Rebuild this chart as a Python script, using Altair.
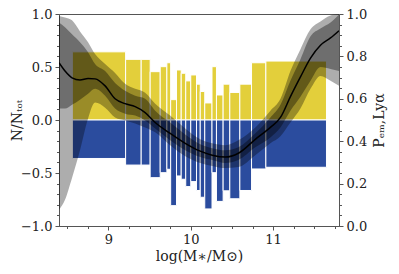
import altair as alt
import pandas as pd

# ---- histogram bins (log stellar mass) and fractions ----
bin_edges = [8.562, 9.209, 9.398, 9.507, 9.629, 9.710, 9.756, 9.827, 9.884, 9.939,
             10.000, 10.070, 10.115, 10.170, 10.258, 10.312, 10.393, 10.474, 10.596,
             10.738, 10.912, 11.648]
frac_emitter = [0.643, 0.572, 0.572, 0.456, 0.503, 0.540, 0.192, 0.472, 0.441, 0.369,
                0.425, 0.338, 0.269, 0.161, 0.503, 0.236, 0.338, 0.260, 0.338, 0.540, 0.556]
frac_nonemitter = [-0.363, -0.425, -0.425, -0.544, -0.497, -0.465, -0.808, -0.528, -0.559,
                   -0.628, -0.581, -0.665, -0.729, -0.839, -0.497, -0.768, -0.668, -0.743,
                   -0.665, -0.462, -0.446]

# ---- probability curve and credible bands ----
mass_grid = [8.40, 8.473, 8.558, 8.655, 8.753, 8.838, 8.960, 9.081, 9.203, 9.325, 9.446,
             9.568, 9.750, 9.933, 10.115, 10.261, 10.419, 10.578, 10.784, 10.967, 11.089,
             11.210, 11.332, 11.454, 11.575, 11.697, 11.80]
p_median = [0.770, 0.731, 0.699, 0.689, 0.696, 0.694, 0.661, 0.600, 0.577, 0.563, 0.535,
            0.488, 0.437, 0.390, 0.353, 0.334, 0.325, 0.343, 0.409, 0.465, 0.512, 0.610,
            0.703, 0.792, 0.853, 0.887, 0.921]
p_outer_hi = [0.991, 0.984, 0.970, 0.918, 0.867, 0.811, 0.764, 0.722, 0.671, 0.647, 0.629,
              0.577, 0.521, 0.460, 0.409, 0.390, 0.381, 0.404, 0.465, 0.544, 0.600, 0.731,
              0.834, 0.928, 0.965, 0.993, 1.0]
p_inner_hi = [0.960, 0.937, 0.904, 0.867, 0.820, 0.764, 0.731, 0.675, 0.638, 0.614, 0.600,
              0.544, 0.488, 0.432, 0.386, 0.367, 0.357, 0.371, 0.437, 0.512, 0.572, 0.685,
              0.787, 0.895, 0.932, 0.960, 0.998]
p_inner_lo = [0.554, 0.554, 0.572, 0.596, 0.624, 0.647, 0.614, 0.554, 0.530, 0.521, 0.498,
              0.460, 0.404, 0.357, 0.325, 0.311, 0.297, 0.311, 0.371, 0.418, 0.465, 0.544,
              0.610, 0.685, 0.750, 0.741, 0.731]
p_outer_lo = [0.077, 0.124, 0.227, 0.357, 0.507, 0.582, 0.558, 0.512, 0.498, 0.484, 0.465,
              0.442, 0.381, 0.329, 0.297, 0.283, 0.273, 0.278, 0.334, 0.390, 0.423, 0.488,
              0.554, 0.647, 0.708, 0.685, 0.661]

x_ticks = [8.5, 8.75, 9.0, 9.25, 9.5, 9.75, 10.0, 10.25, 10.5, 10.75, 11.0, 11.25, 11.5, 11.75]
yl_ticks = [round(-1 + 0.1 * i, 2) for i in range(21)]
yr_ticks = [round(0.05 * i, 2) for i in range(21)]

YELLOW = "#e3cf3b"
BLUE = "#2b4c9e"
FONT = "DejaVu Serif"
W, H = 280, 212

rows = []
for i in range(len(frac_emitter)):
    rows.append({"lo": bin_edges[i], "hi": bin_edges[i + 1], "val": frac_emitter[i], "kind": "em"})
    rows.append({"lo": bin_edges[i], "hi": bin_edges[i + 1], "val": frac_nonemitter[i], "kind": "non"})
bars_df = pd.DataFrame(rows)

curve_df = pd.DataFrame({
    "mass": mass_grid, "p": p_median,
    "o_hi": p_outer_hi, "o_lo": p_outer_lo,
    "i_hi": p_inner_hi, "i_lo": p_inner_lo,
})

xscale = alt.Scale(domain=[8.4, 11.8], nice=False, zero=False)
x_axis = alt.Axis(
    values=x_ticks,
    labelExpr="abs(datum.value - round(datum.value)) < 0.01 ? format(datum.value, 'd') : ''",
    tickSize={"condition": {"test": "abs(datum.value - round(datum.value)) < 0.01", "value": 4}, "value": 2.5},
    title="log(M∗/M⊙)", labelFlush=False, labelOverlap=False, grid=False, titlePadding=3,
)

left_axis = alt.Axis(
    values=yl_ticks, orient="left",
    labelExpr="abs(datum.value*2 - round(datum.value*2)) < 0.01 ? replace(format(datum.value, '.1f'), '-', '−') : ''",
    tickSize={"condition": {"test": "abs(datum.value*2 - round(datum.value*2)) < 0.01", "value": 4}, "value": 2.5},
    title="N/Nₜₒₜ", labelOverlap=False, grid=False,
    titleAngle=270, titleX=-35, titleY=H / 2, titleAlign="center", titleBaseline="bottom",
)

right_axis = alt.Axis(
    values=yr_ticks, orient="right",
    labelExpr="abs(datum.value*5 - round(datum.value*5)) < 0.01 ? format(datum.value, '.1f') : ''",
    tickSize={"condition": {"test": "abs(datum.value*5 - round(datum.value*5)) < 0.01", "value": 4}, "value": 2.5},
    title="Pₑₘ,Lyα", labelOverlap=False, grid=False,
    titleAngle=270, titleX=47, titleY=H / 2, titleAlign="center", titleBaseline="bottom",
)

bars = alt.Chart(bars_df).mark_bar(stroke="white", strokeWidth=1).encode(
    x=alt.X("lo:Q", scale=xscale, axis=x_axis),
    x2="hi:Q",
    y=alt.Y("val:Q", scale=alt.Scale(domain=[-1, 1], nice=False), axis=left_axis),
    y2=alt.datum(0),
    color=alt.Color("kind:N", scale=alt.Scale(domain=["em", "non"], range=[YELLOW, BLUE]), legend=None),
)

pscale = alt.Scale(domain=[0, 1], nice=False)
base = alt.Chart(curve_df)
outer = base.mark_area(color="black", opacity=0.32, interpolate="monotone", clip=True).encode(
    x=alt.X("mass:Q", scale=xscale, axis=x_axis),
    y=alt.Y("o_lo:Q", scale=pscale, axis=right_axis),
    y2="o_hi:Q",
)
inner = base.mark_area(color="black", opacity=0.36, interpolate="monotone", clip=True).encode(
    x=alt.X("mass:Q", scale=xscale, axis=x_axis),
    y=alt.Y("i_lo:Q", scale=pscale, axis=right_axis),
    y2="i_hi:Q",
)
line = base.mark_line(color="black", strokeWidth=1.5, interpolate="monotone", clip=True).encode(
    x=alt.X("mass:Q", scale=xscale, axis=x_axis),
    y=alt.Y("p:Q", scale=pscale, axis=right_axis),
)

chart = alt.layer(bars, alt.layer(outer, inner, line)).resolve_scale(y="independent").properties(
    width=W, height=H,
    padding={"left": 51, "top": 6, "right": 52, "bottom": 40},
    autosize=alt.AutoSizeParams(type="none"),
).configure_view(stroke="#555", strokeWidth=1).configure_axis(
    labelFont=FONT, titleFont=FONT, labelFontSize=13, titleFontSize=14,
    titleFontWeight="normal", labelColor="#222", titleColor="#222",
    domainColor="#555", tickColor="#555", labelPadding=3,
)

chart.save("out.html", embed_options={"renderer": "svg", "actions": False})
